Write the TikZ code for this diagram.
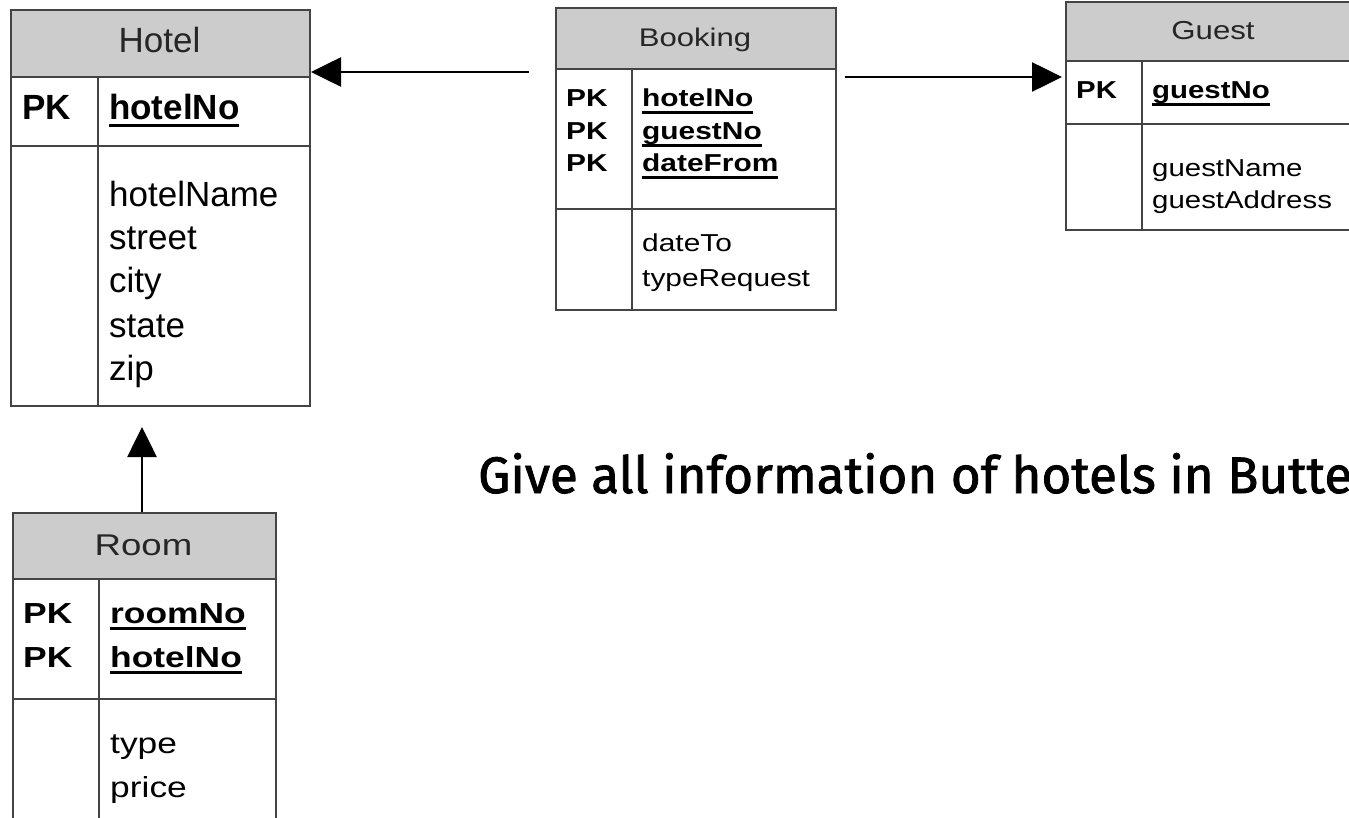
\documentclass[tikz,border=0pt]{standalone}
\usepackage{fontspec}
\usepackage{graphicx}
\setmainfont{Liberation Sans}
\newfontfamily\bookfont[FakeStretch=1.22]{Liberation Sans}
\newfontfamily\guestfont[FakeStretch=1.2]{Liberation Sans}
\newfontfamily\roomfont[FakeStretch=1.22]{Liberation Sans}
\newfontfamily\questfont[FakeBold=1.6]{Fira Sans}
\usetikzlibrary{arrows.meta}
\definecolor{hdr}{HTML}{CCCCCC}
\definecolor{ln}{HTML}{444444}
\newcommand\keyu[1]{\setbox0\hbox{#1}\rlap{\rule[-6.6pt]{\wd0}{2.4pt}}\box0}
\tikzset{
  headbox/.style={draw=ln, fill=hdr, line width=2pt, inner sep=0, anchor=north west},
  tblbox/.style={draw=ln, line width=2pt, inner sep=0, anchor=north west},
  tline/.style={draw=ln, line width=2pt},
  arr/.style={line width=2.6pt, -{Triangle[length=30pt,width=29pt]}},
  txt/.style={anchor=base west, inner sep=0, text=black},
  ttl/.style={anchor=base, inner sep=0, text=black!85},
  hfont/.style={font=\fontsize{35}{40}\selectfont},
  hbold/.style={font=\fontsize{35}{40}\selectfont\bfseries},
  bfont/.style={font=\bookfont\fontsize{24.5}{28}\selectfont},
  bbold/.style={font=\bookfont\fontsize{24.5}{28}\selectfont\bfseries},
  gfont/.style={font=\guestfont\fontsize{24.5}{28}\selectfont},
  gbold/.style={font=\guestfont\fontsize{24.5}{28}\selectfont\bfseries},
  rfont/.style={font=\roomfont\fontsize{29}{33}\selectfont},
  rbold/.style={font=\roomfont\fontsize{29}{33}\selectfont\bfseries},
}
\begin{document}
\begin{tikzpicture}[x=1pt,y=-1pt]
\useasboundingbox (0,0) rectangle (1349,818);
\clip (0,0) rectangle (1349,818);

% ---------------- Hotel ----------------
\node[tblbox, minimum width=299pt, minimum height=396pt] (hotel) at (10,9) {};
\node[headbox, minimum width=299pt, minimum height=67pt] (hotelhead) at (10,9) {};
\draw[tline] (hotel.west |- 0,146) -- (hotel.east |- 0,146);
\draw[tline] (hotelhead.south -| 98,0) -- (hotel.south -| 98,0);
\node[ttl, hfont] (hotel-t) at (159.5,53) {Hotel};
\node[txt, hbold] (hotel-pk) at (22,120) {PK};
\node[txt, hbold] (hotel-k1) at (109,120) {\keyu{hotelNo}};
\node[txt, hfont] (hotel-a1) at (109,207) {hotelName};
\node[txt, hfont] (hotel-a2) at (109,250) {street};
\node[txt, hfont] (hotel-a3) at (109,293) {city};
\node[txt, hfont] (hotel-a4) at (109,337) {state};
\node[txt, hfont] (hotel-a5) at (109,380) {zip};

% ---------------- Booking ----------------
\node[tblbox, minimum width=280pt, minimum height=302pt] (booking) at (555,7) {};
\node[headbox, minimum width=280pt, minimum height=61pt] (bookinghead) at (555,7) {};
\draw[tline] (booking.west |- 0,209) -- (booking.east |- 0,209);
\draw[tline] (bookinghead.south -| 632,0) -- (booking.south -| 632,0);
\node[ttl, bfont, font=\bookfont\fontsize{25.5}{29}\selectfont] (booking-t) at (695,47) {Booking};
\node[txt, bbold] (booking-pk1) at (566,107) {PK};
\node[txt, bbold] (booking-pk2) at (566,140) {PK};
\node[txt, bbold] (booking-pk3) at (566,172) {PK};
\node[txt, bbold] (booking-k1) at (642,107) {\keyu{hotelNo}};
\node[txt, bbold] (booking-k2) at (642,140) {\keyu{guestNo}};
\node[txt, bbold] (booking-k3) at (642,172) {\keyu{dateFrom}};
\node[txt, bfont] (booking-a1) at (642,252) {dateTo};
\node[txt, bfont] (booking-a2) at (642,287) {typeRequest};

% ---------------- Guest ----------------
\node[tblbox, minimum width=296pt, minimum height=228pt] (guest) at (1065,1) {};
\node[headbox, minimum width=296pt, minimum height=59pt] (guesthead) at (1065,1) {};
\draw[tline] (guest.west |- 0,124) -- (guest.east |- 0,124);
\draw[tline] (guesthead.south -| 1142,0) -- (guest.south -| 1142,0);
\node[ttl, gfont, font=\guestfont\fontsize{26}{30}\selectfont] (guest-t) at (1213,40) {Guest};
\node[txt, gbold] (guest-pk) at (1076,99) {PK};
\node[txt, gbold] (guest-k1) at (1152,99) {\keyu{guestNo}};
\node[txt, gfont] (guest-a1) at (1152,177) {guestName};
\node[txt, gfont] (guest-a2) at (1152,209) {guestAddress};

% ---------------- Room ----------------
\node[tblbox, minimum width=263pt, minimum height=330pt] (room) at (12,512) {};
\node[headbox, minimum width=263pt, minimum height=66pt] (roomhead) at (12,512) {};
\draw[tline] (room.west |- 0,699) -- (room.east |- 0,699);
\draw[tline] (roomhead.south -| 99,0) -- (room.south -| 99,0);
\node[ttl, rfont, font=\roomfont\fontsize{30}{34}\selectfont] (room-t) at (143.5,555) {Room};
\node[txt, rbold] (room-pk1) at (23,623) {PK};
\node[txt, rbold] (room-pk2) at (23,667) {PK};
\node[txt, rbold] (room-k1) at (110,623) {\keyu{roomNo}};
\node[txt, rbold] (room-k2) at (110,667) {\keyu{hotelNo}};
\node[txt, rfont] (room-a1) at (110,753) {type};
\node[txt, rfont] (room-a2) at (110,797) {price};

% ---------------- connectors ----------------
\draw[arr, shorten <=26pt] (booking.west |- 0,72) -- (hotel.east |- 0,72);
\draw[arr, shorten <=8pt, shorten >=3pt] (booking.east |- 0,77) -- (guest.west |- 0,77);
\draw[arr, shorten >=20pt] (room.north -| 142,0) -- (hotel.south -| 142,0);

% ---------------- question ----------------
\node[anchor=base west, inner sep=0] (question) at (478,493)
  {\resizebox{874pt}{40pt}{\questfont Give all information of hotels in Butte}};
\end{tikzpicture}
\end{document}
